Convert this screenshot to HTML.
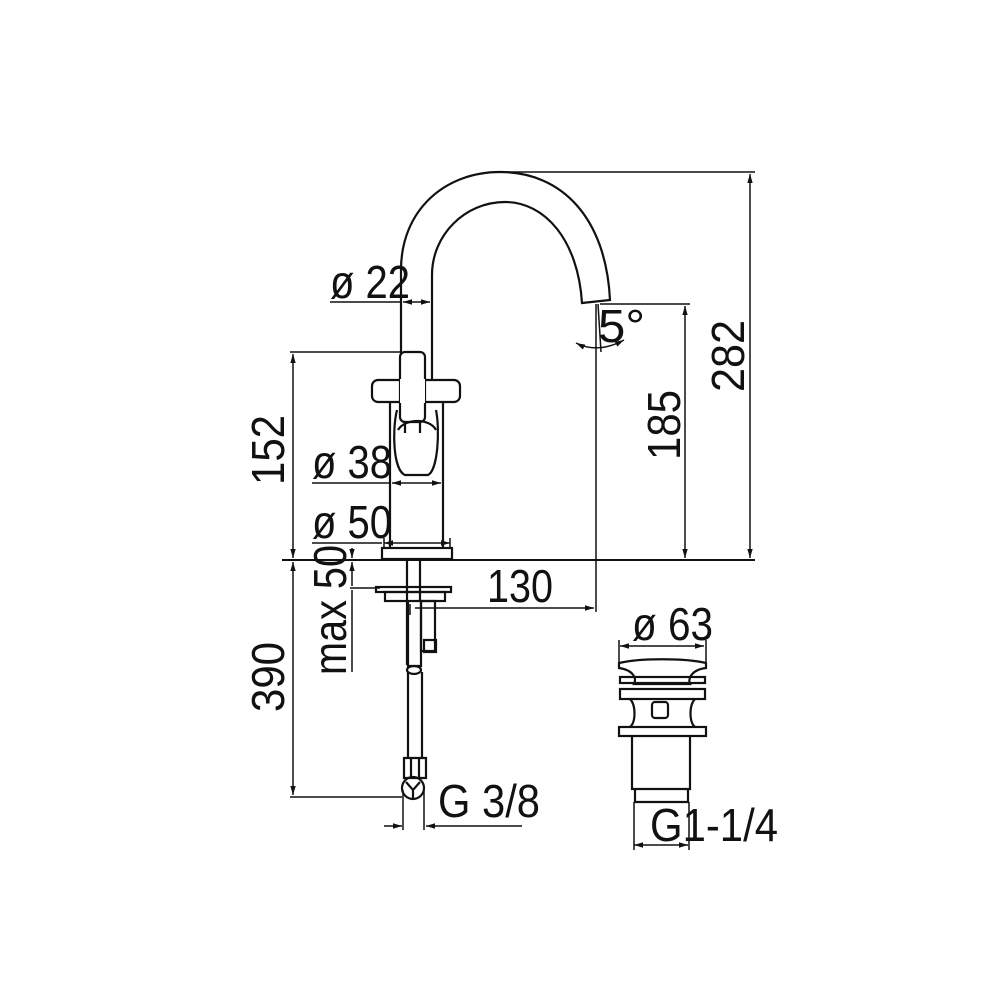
<!DOCTYPE html>
<html><head><style>
html,body{margin:0;padding:0;background:#fff;}
svg{display:block}
text{font-family:"Liberation Sans Narrow","Liberation Sans",sans-serif;font-size:46px;fill:#111;}
</style></head><body>
<svg width="1000" height="1000" viewBox="0 0 1000 1000" xmlns="http://www.w3.org/2000/svg">
<defs>
<marker id="a" viewBox="0 0 10 10" refX="10" refY="5" markerWidth="8" markerHeight="6" orient="auto-start-reverse"><path d="M0,2 L10,5 L0,8 z" fill="#111"/></marker>
</defs>
<g fill="none" stroke="#111" stroke-width="2.2">
<path d="M401,380 L401,270 C401,210 445,172 500,172 C562,172 606,218 610,300 L582,303 C578,240 545,202 505,202 C465,202 432,235 432,275 L432,380" fill="#fff"/>
<rect x="372" y="380" width="88" height="22" rx="6" fill="#fff"/>
<rect x="400" y="352" width="25" height="70" rx="5" fill="#fff"/>
<rect x="400" y="379" width="25" height="24" stroke="none" fill="#fff"/>
<path d="M390,402 L390,548 M443,402 L443,548"/>
<path d="M397,410 C392,430 393,470 405,475 L428,475 C438,470 440,430 436,410"/>
<path d="M398,430 C405,418 430,418 436,430"/>
<path d="M405,422 L405,433 M420,422 L420,433"/>
<rect x="382" y="548" width="70" height="11" fill="#fff"/>
<path d="M407,560 L407,665 M420,560 L420,600"/>
<rect x="376" y="587" width="75" height="5"/>
<rect x="385" y="592" width="60" height="9"/>
<rect x="421" y="601" width="14" height="50"/>
<rect x="424" y="640" width="12" height="12"/>
<path d="M408,602 L408,666 L421,666 L421,602"/>
<ellipse cx="414" cy="670" rx="7" ry="4"/>
<path d="M408,672 L408,758 M422,672 L422,758"/>
<path d="M404,758 L426,758 L426,778 L404,778 Z"/>
<path d="M411,758 L411,778 M419,758 L419,778"/>
<circle cx="413" cy="788" r="11"/>
<path d="M406,782 L413,790 L420,782 M413,790 L413,798"/>
<path d="M619,663 C640,658 685,658 706,663 L706,668 C690,670 688,680 690,684 L634,684 C637,678 633,670 619,668 Z"/>
<rect x="620" y="677" width="85" height="6"/>
<rect x="620" y="689" width="85" height="10"/>
<path d="M630,699 C636,705 636,722 630,727 M695,699 C689,705 689,722 695,727"/>
<rect x="652" y="702" width="16" height="16" rx="3"/>
<rect x="619" y="727" width="87" height="9"/>
<path d="M632,736 L632,789 L690,789 L690,736 M635,789 L635,802 L688,802 L688,789"/>
</g>
<g fill="none" stroke="#111" stroke-width="1.5">
<line x1="282" y1="560" x2="755" y2="560" stroke-width="2"/>
<line x1="500" y1="172" x2="755" y2="172"/>
<line x1="750" y1="174" x2="750" y2="558" marker-start="url(#a)" marker-end="url(#a)"/>
<line x1="600" y1="304" x2="690" y2="304"/>
<line x1="685" y1="306" x2="685" y2="558" marker-start="url(#a)" marker-end="url(#a)"/>
<line x1="596" y1="304" x2="596" y2="612"/>
<line x1="598" y1="304" x2="601" y2="352"/>
<path d="M576,343 Q598,354 624,340" marker-start="url(#a)" marker-end="url(#a)"/>
<line x1="415" y1="608" x2="594" y2="608" marker-end="url(#a)"/>
<line x1="410" y1="604" x2="410" y2="615"/>
<line x1="290" y1="352" x2="400" y2="352"/>
<line x1="293" y1="354" x2="293" y2="558" marker-start="url(#a)" marker-end="url(#a)"/>
<line x1="293" y1="562" x2="293" y2="795" marker-start="url(#a)" marker-end="url(#a)"/>
<line x1="290" y1="797" x2="402" y2="797"/>
<line x1="352" y1="548" x2="352" y2="558" marker-end="url(#a)"/>
<line x1="352" y1="562" x2="352" y2="586" marker-start="url(#a)"/>
<line x1="350" y1="588" x2="380" y2="588"/>
<line x1="352" y1="590" x2="352" y2="672"/>
<line x1="330" y1="302" x2="401" y2="302"/>
<line x1="403" y1="302" x2="430" y2="302" marker-start="url(#a)" marker-end="url(#a)"/>
<line x1="312" y1="483" x2="390" y2="483"/>
<line x1="392" y1="483" x2="441" y2="483" marker-start="url(#a)" marker-end="url(#a)"/>
<line x1="312" y1="543" x2="382" y2="543"/>
<line x1="384" y1="543" x2="450" y2="543" marker-start="url(#a)" marker-end="url(#a)"/>
<line x1="384" y1="538" x2="384" y2="548"/><line x1="450" y1="538" x2="450" y2="548"/>
<line x1="620" y1="646" x2="704" y2="646" marker-start="url(#a)" marker-end="url(#a)"/>
<line x1="619" y1="640" x2="619" y2="663"/><line x1="706" y1="640" x2="706" y2="663"/>
<line x1="634" y1="845" x2="688" y2="845" marker-start="url(#a)" marker-end="url(#a)"/>
<line x1="634" y1="802" x2="634" y2="850"/><line x1="689" y1="802" x2="689" y2="850"/>
<line x1="384" y1="826" x2="402" y2="826" marker-end="url(#a)"/>
<line x1="426" y1="826" x2="522" y2="826" marker-start="url(#a)"/>
<line x1="403" y1="790" x2="403" y2="830"/><line x1="424" y1="790" x2="424" y2="830"/>
</g>
<text x="330" y="298" textLength="80" lengthAdjust="spacingAndGlyphs">ø 22</text>
<text x="312" y="478" textLength="80" lengthAdjust="spacingAndGlyphs">ø 38</text>
<text x="312" y="538" textLength="80" lengthAdjust="spacingAndGlyphs">ø 50</text>
<text x="487" y="602" textLength="66" lengthAdjust="spacingAndGlyphs">130</text>
<text x="598" y="342" font-size="42" textLength="47" lengthAdjust="spacingAndGlyphs">5°</text>
<text x="632" y="640" textLength="81" lengthAdjust="spacingAndGlyphs">ø 63</text>
<text x="438" y="817" textLength="102" lengthAdjust="spacingAndGlyphs">G 3/8</text>
<text x="650" y="841" textLength="128" lengthAdjust="spacingAndGlyphs">G1-1/4</text>
<text transform="translate(284,485) rotate(-90)" textLength="70" lengthAdjust="spacingAndGlyphs">152</text>
<text transform="translate(284,712) rotate(-90)" textLength="70" lengthAdjust="spacingAndGlyphs">390</text>
<text transform="translate(346,675) rotate(-90)" textLength="130" lengthAdjust="spacingAndGlyphs">max 50</text>
<text transform="translate(680,460) rotate(-90)" textLength="70" lengthAdjust="spacingAndGlyphs">185</text>
<text transform="translate(744,392) rotate(-90)" textLength="72" lengthAdjust="spacingAndGlyphs">282</text>
</svg>
</body></html>
